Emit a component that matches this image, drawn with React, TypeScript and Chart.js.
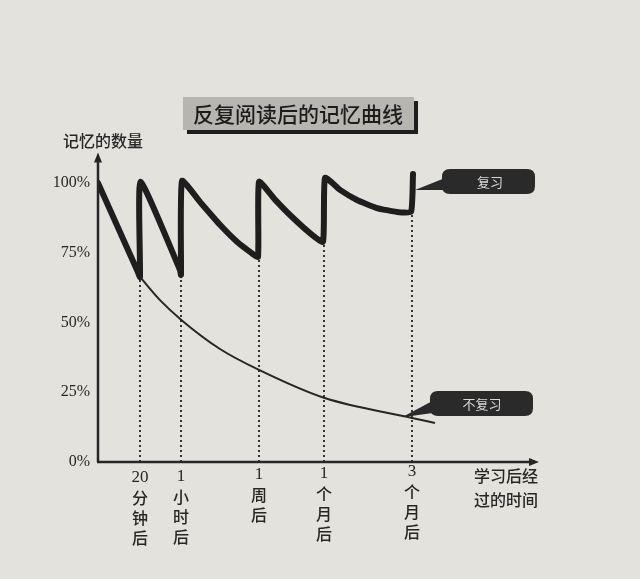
import React, { useEffect, useRef } from "react";
import { Chart, registerables } from "chart.js";

Chart.register(...registerables);

// ---- data ----
const titleText = "反复阅读后的记忆曲线";
const yAxisTitle = "记忆的数量";
const xAxisTitle = ["学习后经", "过的时间"];
const timePositions = [42, 83, 161, 226, 314];
const timeLabels = [
  ["20", "分", "钟", "后"],
  ["1", "小", "时", "后"],
  ["1", "周", "后"],
  ["1", "个", "月", "后"],
  ["3", "个", "月", "后"],
];
const yTickValues = [0, 25, 50, 75, 100];
const yTickLabels = ["0%", "25%", "50%", "75%", "100%"];

const reviewX = [0, 39, 42, 42.5, 82, 83, 84, 102, 122, 139, 152, 160, 161, 177, 192, 212, 225, 227, 242, 259, 279, 299, 313, 315];
const reviewY = [100, 68.8, 66.3, 100.4, 68.8, 67, 100.7, 93.2, 85, 78.9, 75.3, 73.5, 100.4, 94, 88.5, 82, 78.9, 101.8, 97.5, 93.9, 91, 89.6, 89.6, 103.2];

const forgetX = [42, 62, 83, 122, 161, 226, 314, 337];
const forgetY = [66.3, 58, 51, 40.5, 33, 23, 15.8, 14];

const reviewMins = [66.3, 67, 73.5, 79, 89.6];

const reviewLabel = "复习";
const forgetLabel = "不复习";

const INK = "#262626";
const BG = "#e4e2dd";
const SERIF = "'Liberation Serif', 'DejaVu Serif', 'Noto Sans CJK SC', serif";
const CJK = "'Noto Sans CJK SC', sans-serif";

function roundRect(ctx: CanvasRenderingContext2D, x: number, y: number, w: number, h: number, r: number) {
  ctx.beginPath();
  ctx.moveTo(x + r, y);
  ctx.lineTo(x + w - r, y);
  ctx.quadraticCurveTo(x + w, y, x + w, y + r);
  ctx.lineTo(x + w, y + h - r);
  ctx.quadraticCurveTo(x + w, y + h, x + w - r, y + h);
  ctx.lineTo(x + r, y + h);
  ctx.quadraticCurveTo(x, y + h, x, y + h - r);
  ctx.lineTo(x, y + r);
  ctx.quadraticCurveTo(x, y, x + r, y);
  ctx.closePath();
}

const decor = {
  id: "decor",
  beforeDraw(chart: any) {
    const ctx = chart.ctx as CanvasRenderingContext2D;
    ctx.save();
    ctx.fillStyle = BG;
    ctx.fillRect(0, 0, chart.width, chart.height);
    ctx.restore();
  },
  afterDraw(chart: any) {
    const ctx = chart.ctx as CanvasRenderingContext2D;
    const xs = chart.scales.x;
    const ys = chart.scales.y;
    const x0 = xs.getPixelForValue(0);
    const y0 = ys.getPixelForValue(0);
    ctx.save();
    ctx.strokeStyle = INK;
    ctx.fillStyle = INK;
    ctx.lineWidth = 2.5;
    // y axis
    const yTop = ys.getPixelForValue(109.5);
    ctx.beginPath();
    ctx.moveTo(x0, y0);
    ctx.lineTo(x0, yTop + 4);
    ctx.stroke();
    ctx.beginPath();
    ctx.moveTo(x0, yTop - 4);
    ctx.lineTo(x0 - 4, yTop + 6);
    ctx.lineTo(x0 + 4, yTop + 6);
    ctx.closePath();
    ctx.fill();
    // x axis
    const xEnd = xs.getPixelForValue(439);
    ctx.beginPath();
    ctx.moveTo(x0 - 1, y0);
    ctx.lineTo(xEnd - 6, y0);
    ctx.stroke();
    ctx.beginPath();
    ctx.moveTo(xEnd + 2, y0);
    ctx.lineTo(xEnd - 8, y0 - 4);
    ctx.lineTo(xEnd - 8, y0 + 4);
    ctx.closePath();
    ctx.fill();

    // y tick labels
    ctx.font = `16px ${SERIF}`;
    ctx.textAlign = "right";
    ctx.textBaseline = "middle";
    yTickValues.forEach((v, i) => {
      ctx.fillText(yTickLabels[i], x0 - 8, ys.getPixelForValue(v));
    });

    // x tick labels (vertical stacks)
    ctx.textAlign = "center";
    ctx.textBaseline = "middle";
    timePositions.forEach((t, i) => {
      const px = xs.getPixelForValue(t);
      const lines = timeLabels[i];
      const shift = i * -1.5;
      lines.forEach((s, j) => {
        const isDigit = /^[0-9]+$/.test(s);
        ctx.font = isDigit ? `17px ${SERIF}` : `500 16px ${CJK}`;
        ctx.fillText(s, px, y0 + 16 + shift + j * 20);
      });
    });

    // axis titles
    ctx.font = `500 16px ${CJK}`;
    ctx.textAlign = "left";
    ctx.fillText(yAxisTitle, 63, 141);
    ctx.font = `500 16px ${CJK}`;
    ctx.fillText(xAxisTitle[0], 474, 476);
    ctx.fillText(xAxisTitle[1], 474, 500);

    // title box
    ctx.fillStyle = "#1e1e1e";
    ctx.fillRect(187, 101, 231, 33);
    ctx.fillStyle = "#b7b5b0";
    ctx.fillRect(183, 97, 231, 33);
    ctx.fillStyle = "#1c1c1c";
    ctx.font = `500 21px ${CJK}`;
    ctx.textAlign = "center";
    ctx.fillText(titleText, 298, 114);

    // callout: review
    const tipRx = xs.getPixelForValue(timePositions[4]) + 3;
    const tipRy = ys.getPixelForValue(97.5);
    ctx.fillStyle = "#2a2a2a";
    roundRect(ctx, 442, 169, 93, 25, 8);
    ctx.fill();
    ctx.beginPath();
    ctx.moveTo(450, 176);
    ctx.lineTo(tipRx, tipRy);
    ctx.lineTo(452, 190);
    ctx.closePath();
    ctx.fill();
    ctx.fillStyle = "#d8d8d8";
    ctx.font = `13px ${CJK}`;
    ctx.fillText(reviewLabel, 490, 182);

    // callout: no review
    const tipFx = xs.getPixelForValue(304);
    const tipFy = ys.getPixelForValue(16);
    ctx.fillStyle = "#2a2a2a";
    roundRect(ctx, 430, 391, 103, 25, 8);
    ctx.fill();
    ctx.beginPath();
    ctx.moveTo(438, 398);
    ctx.lineTo(tipFx, tipFy);
    ctx.lineTo(440, 412);
    ctx.closePath();
    ctx.fill();
    ctx.fillStyle = "#d8d8d8";
    ctx.font = `13px ${CJK}`;
    ctx.fillText(forgetLabel, 482, 404);
    ctx.restore();
  },
};

export default function App() {
  const ref = useRef<HTMLCanvasElement | null>(null);
  useEffect(() => {
    if (!ref.current) return;
    const review = reviewX.map((x, i) => ({ x, y: reviewY[i] }));
    const forget = forgetX.map((x, i) => ({ x, y: forgetY[i] }));
    const dotted = timePositions.map((t, i) => ({
      data: [
        { x: t, y: 0 },
        { x: t, y: reviewMins[i] },
      ],
      borderColor: "#333",
      borderWidth: 2,
      borderDash: [2, 3],
      pointRadius: 0,
      fill: false,
      order: 3,
    }));
    const chart = new Chart(ref.current, {
      type: "line",
      data: {
        datasets: [
          ...dotted,
          {
            data: forget,
            borderColor: INK,
            borderWidth: 2,
            pointRadius: 0,
            cubicInterpolationMode: "monotone",
            fill: false,
            order: 2,
          },
          {
            data: review,
            borderColor: "#1e1e1e",
            borderWidth: 6,
            pointRadius: 0,
            tension: 0.15,
            borderJoinStyle: "round",
            borderCapStyle: "round",
            fill: false,
            order: 1,
          },
        ] as any,
      },
      options: {
        animation: false,
        responsive: false,
        devicePixelRatio: 1,
        layout: { padding: { left: 98, right: 102, top: 155, bottom: 117 } },
        plugins: { legend: { display: false }, tooltip: { enabled: false } },
        scales: {
          x: { type: "linear", min: 0, max: 440, display: false },
          y: { type: "linear", min: 0, max: 110, display: false },
        },
      },
      plugins: [decor],
    });
    return () => chart.destroy();
  }, []);
  return (
    <div style={{ position: "absolute", left: 0, top: 0, width: 640, height: 579 }}>
      <canvas ref={ref} width={640} height={579} style={{ width: 640, height: 579, display: "block" }} />
    </div>
  );
}
